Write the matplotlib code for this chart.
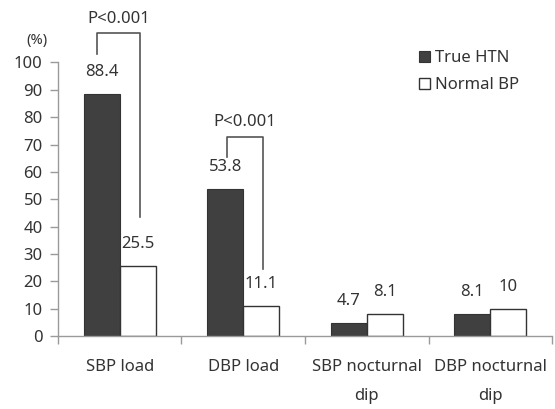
import matplotlib
matplotlib.use("Agg")
import matplotlib.pyplot as plt
import numpy as np

categories = ["SBP load", "DBP load", "SBP nocturnal\ndip", "DBP nocturnal\ndip"]
true_htn = [88.4, 53.8, 4.7, 8.1]
normal_bp = [25.5, 11.1, 8.1, 10]
true_labels = ["88.4", "53.8", "4.7", "8.1"]
normal_labels = ["25.5", "11.1", "8.1", "10"]
yticks = [0, 10, 20, 30, 40, 50, 60, 70, 80, 90, 100]

plt.rcParams['font.family'] = ['Noto Sans', 'DejaVu Sans']
txt = '#333333'
spine = '#9a9a9a'
fs = 12

fig = plt.figure(figsize=(5.55, 4.09), dpi=100)
ax = fig.add_axes([0.1045, 0.1785, 0.8901, 0.6687])

x = np.arange(len(categories))
w = 0.29
ax.bar(x - w / 2, true_htn, w, color='#404040', edgecolor='#333333', linewidth=0.8, label='True HTN')
ax.bar(x + w / 2, normal_bp, w, color='white', edgecolor='#333333', linewidth=1.0, label='Normal BP')

for xi, v, s in zip(x, true_htn, true_labels):
    ax.text(xi - w / 2, v + 8.0, s, ha='center', va='center', fontsize=fs, color=txt)
for xi, v, s in zip(x, normal_bp, normal_labels):
    ax.text(xi + w / 2, v + 8.0, s, ha='center', va='center', fontsize=fs, color=txt)

# significance brackets
bc = '#555555'
def bracket(xl, xr, ytop, yl, yr, ytext):
    ax.plot([xl, xl, xr, xr], [yl, ytop, ytop, yr], color=bc, lw=1.2, clip_on=False)
    ax.text((xl + xr) / 2, ytext, "P<0.001", ha='center', va='center', fontsize=fs, color=txt, clip_on=False)

bracket(-0.184, 0.164, 110.8, 103, 43.4, 115.9)
bracket(0.868, 1.16, 72.8, 65.4, 24.5, 78.3)

ax.set_xlim(-0.5, 3.5)
ax.set_ylim(0, 100)
ax.set_yticks(yticks)
ax.set_yticklabels([str(t) for t in yticks], fontsize=fs, color=txt)
ax.set_xticks(np.arange(len(categories) + 1) - 0.5)
ax.set_xticklabels([])
for xi, c in zip(x, categories):
    ax.text(xi, -8.5, c, ha='center', va='top', fontsize=fs, color=txt, linespacing=2.05,
            transform=ax.transData, clip_on=False)

ax.text(-0.67, 108, "(%)", ha='center', va='center', fontsize=10.5, color=txt, clip_on=False)

for s in ['top', 'right']:
    ax.spines[s].set_visible(False)
for s in ['left', 'bottom']:
    ax.spines[s].set_color(spine)
    ax.spines[s].set_linewidth(1.0)
ax.tick_params(axis='both', direction='out', length=6, color=spine, width=1.0)
ax.tick_params(axis='y', pad=5)

leg = ax.legend(loc='upper left', bbox_to_anchor=(0.70, 1.10), frameon=False, fontsize=fs,
                handlelength=0.65, handleheight=0.65, handletextpad=0.3, labelspacing=0.65,
                labelcolor=txt)

fig.savefig("out.png", dpi=100)
